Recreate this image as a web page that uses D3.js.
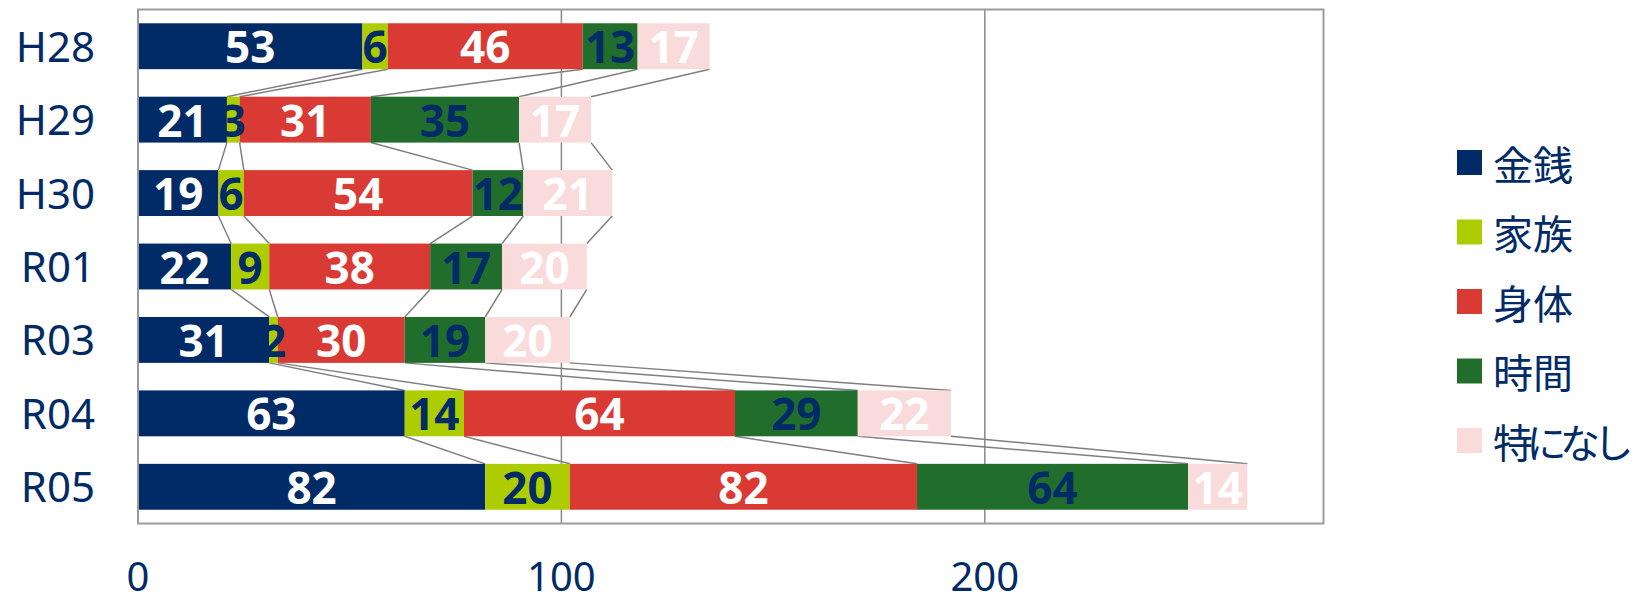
<!DOCTYPE html>
<html><head><meta charset="utf-8">
<script src="https://cdn.jsdelivr.net/npm/d3@7"></script>
<style>body{margin:0;background:#fff}svg{display:block}</style>
</head><body>
<script>
const categories = ["H28","H29","H30","R01","R03","R04","R05"];
const seriesNames = ["金銭","家族","身体","時間","特になし"];
const money  = [53,21,19,22,31,63,82];
const family = [6,3,6,9,2,14,20];
const body   = [46,31,54,38,30,64,82];
const time   = [13,35,12,17,19,29,64];
const none   = [17,17,21,20,20,22,14];
const xTicks = [0,100,200];
const colors = ["#002B66","#AECD00","#DA3A34","#216E2C","#F9DBDB"];
const labelColors = ["#ffffff","#002B66","#ffffff","#002B66","#ffffff"];

const W=1637,H=602;
const m={left:138,top:9.5,right:1323.5,bottom:523.5};
const svg=d3.select("body").append("svg").attr("width",W).attr("height",H);
const x=d3.scaleLinear().domain([0,280]).range([m.left,m.right]);
const y=d3.scaleBand().domain(categories).range([m.top,m.bottom]).paddingInner(0.375).paddingOuter(0.1875);

const rows=categories.map((c,i)=>({cat:c,money:money[i],family:family[i],body:body[i],time:time[i],none:none[i]}));
const keys=["money","family","body","time","none"];
const stacked=d3.stack().keys(keys)(rows);

// gridlines
svg.append("g").selectAll("line").data(xTicks.filter(t=>t>0)).join("line")
  .attr("x1",d=>x(d)).attr("x2",d=>x(d)).attr("y1",m.top).attr("y2",m.bottom)
  .attr("stroke","#8a8a8a").attr("stroke-width",1.5);

// series lines
const sl=svg.append("g");
stacked.forEach(s=>{
  for(let i=0;i<categories.length-1;i++){
    sl.append("line")
      .attr("x1",x(s[i][1])).attr("y1",y(categories[i])+y.bandwidth())
      .attr("x2",x(s[i+1][1])).attr("y2",y(categories[i+1]))
      .attr("stroke","#7f7f7f").attr("stroke-width",1.5);
  }
});

// bars
stacked.forEach((s,k)=>{
  svg.append("g").selectAll("rect").data(s).join("rect")
    .attr("x",d=>x(d[0])).attr("width",d=>x(d[1])-x(d[0]))
    .attr("y",d=>y(d.data.cat)).attr("height",y.bandwidth())
    .attr("fill",colors[k]);
});
// labels
stacked.forEach((s,k)=>{
  svg.append("g").selectAll("text").data(s).join("text")
    .attr("x",d=>(x(d[0])+x(d[1]))/2)
    .attr("y",d=>y(d.data.cat)+y.bandwidth()/2+17)
    .attr("text-anchor","middle")
    .attr("font-family","'Noto Sans',sans-serif").attr("font-weight","bold")
    .attr("font-size",44).attr("fill",labelColors[k])
    .text(d=>d[1]-d[0]);
});

// plot border
svg.append("rect").attr("x",m.left).attr("y",m.top).attr("width",m.right-m.left).attr("height",m.bottom-m.top)
  .attr("fill","none").attr("stroke","#9a9aa4").attr("stroke-width",2);

// category axis labels
svg.append("g").selectAll("text").data(categories).join("text")
  .attr("x",95).attr("y",d=>y(d)+y.bandwidth()/2+15.5)
  .attr("text-anchor","end").attr("font-family","'Noto Sans',sans-serif")
  .attr("font-size",42).attr("fill","#002B66").text(d=>d);

// x tick labels
svg.append("g").selectAll("text").data(xTicks).join("text")
  .attr("x",d=>x(d)).attr("y",591).attr("text-anchor","middle")
  .attr("font-family","'Noto Sans',sans-serif").attr("font-size",40).attr("fill","#002B66").text(d=>d);

// legend
const lg=svg.append("g");
seriesNames.forEach((n,i)=>{
  const cy=162.5+i*69.5;
  lg.append("rect").attr("x",1457).attr("y",cy-12.5).attr("width",25).attr("height",25).attr("fill",colors[i]);
  const t=lg.append("text").attr("x",1493).attr("y",cy).attr("dominant-baseline","central")
    .attr("font-family","'Noto Sans CJK JP',sans-serif").attr("font-size",40).attr("fill","#002B66").text(n);
  const len=t.node().getComputedTextLength();
  const avail=W-1493-10;
  if(len>avail) t.style("letter-spacing",((avail-len)/n.length)+"px");
});
</script>
</body></html>
